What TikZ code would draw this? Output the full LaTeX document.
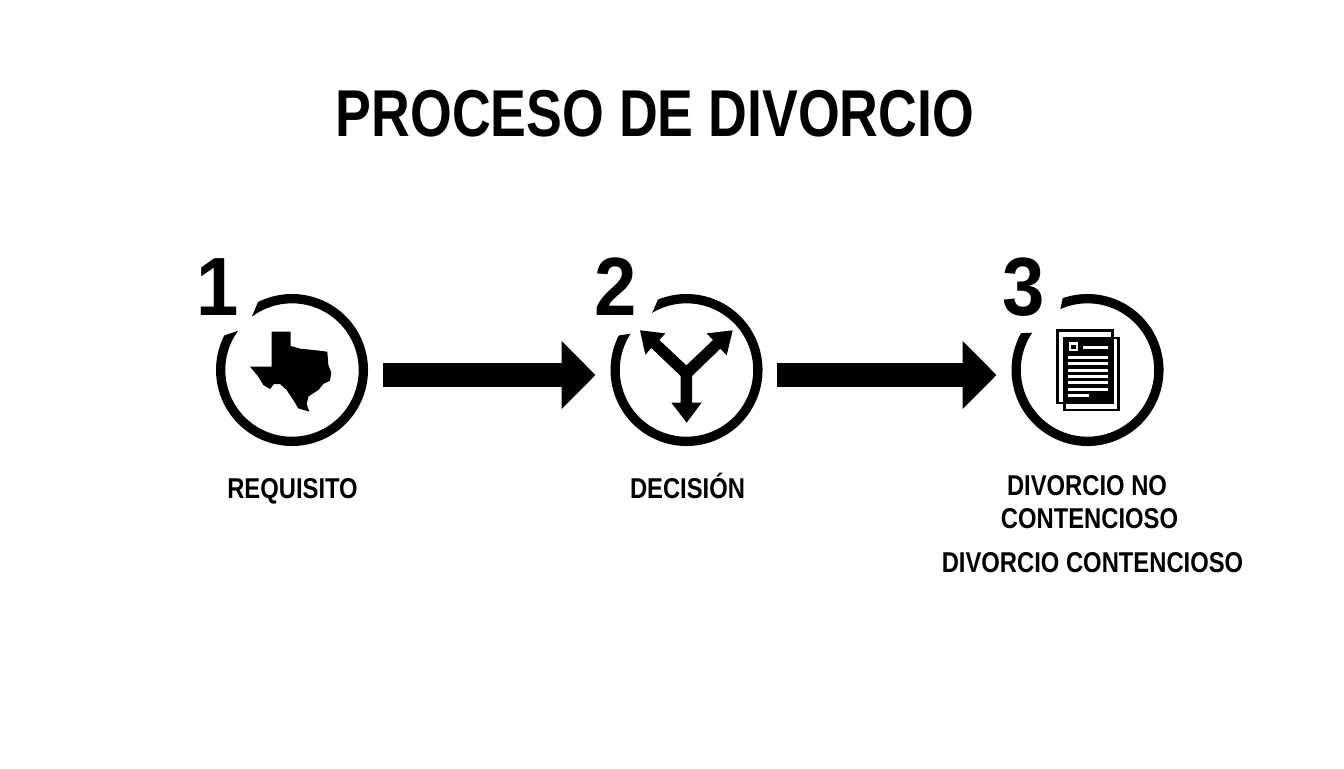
\documentclass[tikz,border=0pt]{standalone}
\usepackage{fontspec}
\setmainfont{Liberation Sans}
\newfontfamily\titlefont[FakeStretch=0.81]{Liberation Sans}
\newfontfamily\numfont[FakeStretch=0.92]{Liberation Sans}
\newfontfamily\labelfont[FakeStretch=0.83]{Liberation Sans}
\usetikzlibrary{arrows.meta}
\tikzset{
  px/.style={x=0.75pt,y=-0.75pt},
  anchorring/.style={circle,minimum size=114pt,inner sep=0pt,outer sep=0pt},
  flowarrow/.style={line width=17.5pt,-{Triangle[length=25.5pt,width=49.5pt]},shorten <=11pt,shorten >=11.2pt},
  titletext/.style={font=\titlefont\bfseries\fontsize{49.7}{50}\selectfont,inner sep=0pt,anchor=base},
  numtext/.style={font=\numfont\bfseries\fontsize{62}{62}\selectfont,inner sep=0pt,anchor=base},
  steptext/.style={font=\labelfont\bfseries\fontsize{21.5}{22}\selectfont,inner sep=0pt,anchor=base},
  sheet/.style={line width=2pt},
}
\newcommand\ringpiece[5]{%
  \fill[shift={(#1.center)}] (#2:76) arc[start angle=#2,end angle=#3,radius=76]
    -- (#4:66.7) arc[start angle=#4,end angle=#5,radius=66.7] -- cycle;}
\begin{document}
\begin{tikzpicture}[px]
\useasboundingbox (0,0) rectangle (1344,768);
\fill[white] (0,0) rectangle (1344,768);
\node[titletext] (title) at (655,136) {PROCESO DE DIVORCIO};
\node[anchorring] (c1) at (292,370) {};
\node[anchorring] (c2) at (686.5,370) {};
\node[anchorring] (c3) at (1087.5,370) {};
\ringpiece{c1}{-116.6}{207}{216}{-127}
\ringpiece{c2}{-112}{207}{213}{-121}
\ringpiece{c3}{-109}{209}{214}{-114}
\draw[flowarrow] ([yshift=-3.75pt]c1.east) -- ([yshift=-3.75pt]c2.west);
\draw[flowarrow] ([yshift=-3.75pt]c2.east) -- ([yshift=-3.75pt]c3.west);
\node[numtext] (n1) at (218,315.5) {1};
\node[numtext] (n2) at (616,315.5) {2};
\node[numtext] (n3) at (1023.5,315.5) {3};
% Texas
\begin{scope}[shift={(190,250)},x=0.25pt,y=-0.25pt]
\fill (245,245) -- (302,245) -- (302,288) -- (330,296) -- (370,300) -- (412,305) -- (415,345) -- (424,368) -- (420,392) -- (400,402) -- (385,420) -- (355,440) -- (350,462) -- (358,485) -- (325,475) -- (310,450) -- (290,420) -- (270,402) -- (252,402) -- (240,417) -- (220,405) -- (205,380) -- (180,350) -- (245,350) -- cycle;
\end{scope}
% Y arrows
\begin{scope}[shift={(590,250)},x=0.25pt,y=-0.25pt]
\fill (272,458) -- (272,378) -- (184,294) -- (166,314) -- (150,241) -- (226,250) -- (208,270) -- (289,346) -- (369,270) -- (350,250) -- (428,241) -- (410,316) -- (391,296) -- (306,378) -- (306,458) -- (335,458) -- (290,518) -- (244,458) -- cycle;
\end{scope}
% Document
\begin{scope}[shift={(990,250)},x=0.25pt,y=-0.25pt]
\draw[sheet] (202,242) rectangle (368,459);
\draw[sheet] (224,264) rectangle (386,480);
\fill (218,260) rectangle (372,462);
\fill[white] (237,276) rectangle (263,303);
\fill (243,284) rectangle (258,296);
\fill[white] (279,287) rectangle (353,296);
\foreach \yy in {317,336,356,375,394,413} \fill[white] (235,\yy) rectangle (355,\yy+9);
\fill[white] (235,432) rectangle (296,441);
\end{scope}
\node[steptext] (l1) at (292.5,498) {REQUISITO};
\node[steptext] (l2) at (687.5,498) {DECISIÓN};
\node[steptext] (l3a) at (1087,495) {DIVORCIO NO};
\node[steptext] (l3b) at (1089.5,528) {CONTENCIOSO};
\node[steptext] (l3c) at (1092.5,572) {DIVORCIO CONTENCIOSO};
\end{tikzpicture}
\end{document}
